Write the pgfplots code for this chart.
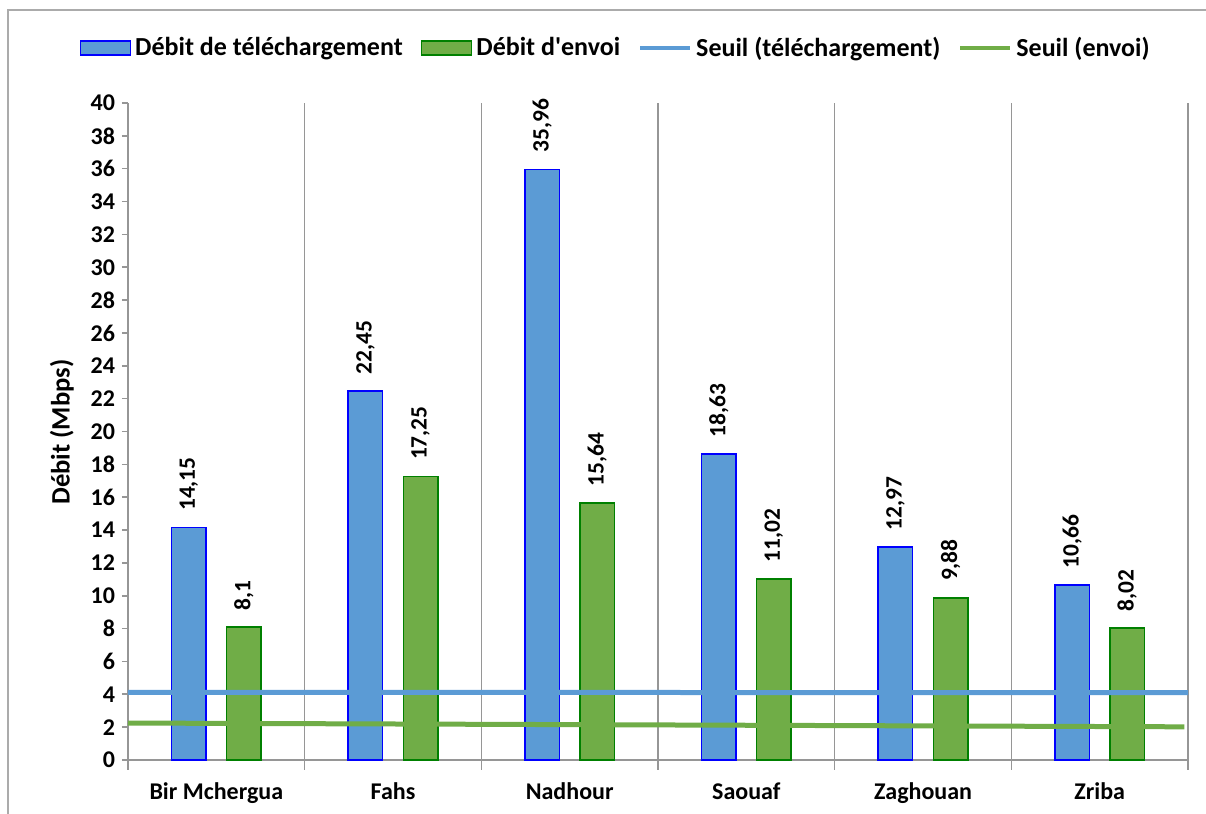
\documentclass[border=0pt]{standalone}
\usepackage{pgfplots}
\pgfplotsset{compat=1.18}
\usepackage{fontspec}
\setmainfont{Carlito}
\definecolor{barblue}{RGB}{91,155,213}
\definecolor{edgeblue}{RGB}{0,0,255}
\definecolor{bargreen}{RGB}{112,173,71}
\definecolor{edgegreen}{RGB}{0,128,0}
\definecolor{axgray}{RGB}{150,150,150}
\begin{document}
\begin{tikzpicture}
\useasboundingbox (-64pt,-27pt) rectangle (539pt,380pt);
\draw[axgray!80, line width=0.8pt] (-60pt,-40pt) rectangle (560pt,375pt);
\begin{axis}[
  scale only axis,
  width=530pt, height=328.5pt,
  xmin=-0.5, xmax=5.5, ymin=0, ymax=40,
  axis x line*=bottom, axis y line*=left,
  axis line style={axgray, line width=0.8pt},
  xtick={0,1,2,3,4,5},
  xticklabels={Bir Mchergua,Fahs,Nadhour,Saouaf,Zaghouan,Zriba},
  minor xtick={-0.5,0.5,1.5,2.5,3.5,4.5,5.5},
  xminorgrids=true,
  minor grid style={axgray, line width=0.6pt},
  major x tick style={draw=none},
  minor x tick style={axgray, line width=0.8pt},
  y tick style={axgray, line width=0.8pt},
  tick align=outside,
  major tick length=3pt, minor tick length=5pt,
  ytick={0,2,...,40},
  /pgf/number format/assume math mode=true,
  ticklabel style={font=\fontsize{12}{14}\selectfont\bfseries},
  xticklabel style={yshift=-5pt},
  ylabel={Débit (Mbps)},
  ylabel style={font=\fontsize{13.3}{15}\selectfont\bfseries, at={(axis description cs:-0.0623,0.499)}, anchor=center},
  legend columns=4,
  legend style={draw=none, fill=none, at={(0.461,1.0837)}, anchor=center,
    font=\fontsize{13}{15}\selectfont\bfseries,
    /tikz/every even column/.append style={column sep=7pt},
    /tikz/every odd column/.append style={column sep=0pt}},
  clip=false,
]
\addplot[ybar, bar width=0.195, bar shift=0, fill=barblue, draw=edgeblue, line width=0.8pt,
  legend image code/.code={\draw[fill=barblue, draw=edgeblue, line width=0.8pt] (0pt,-3.5pt) rectangle (25pt,3.5pt);},
  point meta=explicit symbolic, nodes near coords,
  every node near coord/.append style={rotate=90, anchor=west, inner xsep=8pt, font=\fontsize{11.7}{13}\selectfont\bfseries, text=black}]
coordinates {(-0.156,14.15)[14,15] (0.844,22.45)[22,45] (1.844,35.96)[35,96] (2.844,18.63)[18,63] (3.844,12.97)[12,97] (4.844,10.66)[10,66]};
\addlegendentry{Débit de téléchargement}
\addplot[ybar, bar width=0.195, bar shift=0, fill=bargreen, draw=edgegreen, line width=0.8pt,
  legend image code/.code={\draw[fill=bargreen, draw=edgegreen, line width=0.8pt] (0pt,-3.5pt) rectangle (25pt,3.5pt);},
  point meta=explicit symbolic, nodes near coords,
  every node near coord/.append style={rotate=90, anchor=west, inner xsep=8pt, font=\fontsize{11.7}{13}\selectfont\bfseries, text=black}]
coordinates {(0.156,8.1)[8,1] (1.156,17.25)[17,25] (2.156,15.64)[15,64] (3.156,11.02)[11,02] (4.156,9.88)[9,88] (5.156,8.02)[8,02]};
\addlegendentry{Débit d\textquotesingle envoi}
\addplot[barblue, line width=2.5pt, mark=none,
  legend image code/.code={\draw[barblue, line width=2pt] (0pt,0pt) -- (25pt,0pt);}]
coordinates {(-0.5,4.12) (5.5,4.1)};
\addlegendentry{Seuil (téléchargement)}
\addplot[bargreen, line width=2.5pt, mark=none,
  legend image code/.code={\draw[bargreen, line width=2pt] (0pt,0pt) -- (25pt,0pt);}]
coordinates {(-0.5,2.25) (5.48,2.02)};
\addlegendentry{Seuil (envoi)}
\end{axis}
\end{tikzpicture}
\end{document}
